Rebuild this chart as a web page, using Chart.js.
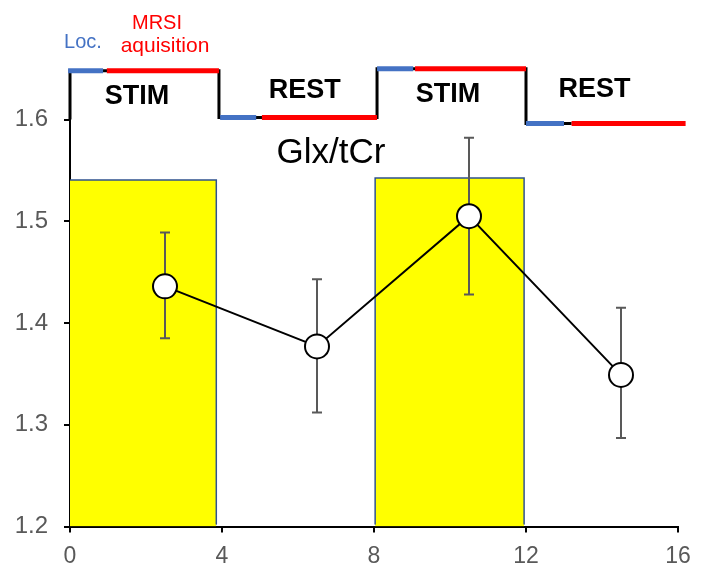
<!DOCTYPE html>
<html>
<head>
<meta charset="utf-8">
<script src="https://cdn.jsdelivr.net/npm/chart.js@4.4.1/dist/chart.umd.min.js"></script>
<style>
  body { margin: 0; background: #fff; }
</style>
</head>
<body>
<canvas id="glxChart" width="714" height="583"></canvas>
<script>
// Glx/tCr over time (minutes), mean with error bars
const timeX = [2.5, 6.5, 10.5, 14.5];
const glx = [1.436, 1.377, 1.505, 1.349];
const errLow = [1.385, 1.312, 1.428, 1.287];
const errHigh = [1.489, 1.443, 1.582, 1.415];

// yellow STIM blocks: [start, end, top]
const stimBlocks = [
  [-0.1, 3.85, 1.5405],
  [8.03, 11.95, 1.5425]
];

// paradigm timeline drawn above the plot (step line + localizer / MRSI parts)
const stepX = [0, 0, 3.92, 3.92, 8.08, 8.08, 12.0, 12.0, 13.2];
const stepY = [1.6, 1.648, 1.648, 1.602, 1.602, 1.650, 1.650, 1.596, 1.596];
const locSegs = [[-0.05, 0.87, 1.648], [3.95, 4.9, 1.602], [8.08, 9.03, 1.650], [12.0, 13.0, 1.596]];
const mrsiSegs = [[0.97, 3.92, 1.648], [5.05, 8.08, 1.602], [9.08, 12.0, 1.650], [13.2, 16.2, 1.596]];

const xTicks = [0, 4, 8, 12, 16];
const yTicks = [1.2, 1.3, 1.4, 1.5, 1.6];

const FONT = "'Liberation Sans', Arial, sans-serif";

const datasets = [];

stimBlocks.forEach(b => {
  datasets.push({
    type: 'line',
    data: [{x: b[0], y: 1.202}, {x: b[0], y: b[2]}, {x: b[1], y: b[2]}, {x: b[1], y: 1.202}],
    borderColor: '#2F528F',
    borderWidth: 1.5,
    backgroundColor: '#FFFF00',
    fill: 'start',
    pointRadius: 0,
    order: 5
  });
  // bottom edge of the block
  datasets.push({
    type: 'line',
    data: [{x: b[0], y: 1.202}, {x: b[1], y: 1.202}],
    borderColor: '#2F528F',
    borderWidth: 1.5,
    pointRadius: 0,
    fill: false,
    order: 5
  });
});

// step line
datasets.push({
  type: 'line',
  data: stepX.map((x, i) => ({x: x, y: stepY[i]})),
  borderColor: '#000',
  borderWidth: 3,
  pointRadius: 0,
  fill: false,
  clip: false,
  order: 4
});

locSegs.forEach(s => {
  datasets.push({
    type: 'line',
    data: [{x: s[0], y: s[2]}, {x: s[1], y: s[2]}],
    borderColor: '#4472C4',
    borderWidth: 5,
    pointRadius: 0,
    fill: false,
    clip: false,
    order: 3
  });
});
mrsiSegs.forEach(s => {
  datasets.push({
    type: 'line',
    data: [{x: s[0], y: s[2]}, {x: s[1], y: s[2]}],
    borderColor: '#FF0000',
    borderWidth: 5,
    pointRadius: 0,
    fill: false,
    clip: false,
    order: 3
  });
});

const mainIndex = datasets.length;
datasets.push({
  type: 'line',
  data: timeX.map((x, i) => ({x: x, y: glx[i]})),
  borderColor: '#000',
  borderWidth: 2,
  pointRadius: 12,
  pointBackgroundColor: '#fff',
  pointBorderColor: '#000',
  pointBorderWidth: 2,
  fill: false,
  clip: false,
  order: 0
});

// labels placed in data coordinates
const textLabels = [
  {text: 'STIM', x: 1.76, y: 1.623, font: 'bold 27px ' + FONT, color: '#000'},
  {text: 'REST', x: 6.18, y: 1.628, font: 'bold 27px ' + FONT, color: '#000'},
  {text: 'STIM', x: 9.95, y: 1.6245, font: 'bold 27px ' + FONT, color: '#000'},
  {text: 'REST', x: 13.8, y: 1.6295, font: 'bold 27px ' + FONT, color: '#000'},
  {text: 'Glx/tCr', x: 6.87, y: 1.5667, font: '35px ' + FONT, color: '#000'},
  {text: 'Loc.', x: 0.34, y: 1.676, font: '20px ' + FONT, color: '#4472C4'},
  {text: 'MRSI', x: 2.29, y: 1.694, font: '20px ' + FONT, color: '#FF0000'},
  {text: 'aquisition', x: 2.5, y: 1.672, font: '21px ' + FONT, color: '#FF0000'}
];

const errorBars = {
  id: 'errorBars',
  beforeDatasetDraw(chart, args) {
    if (args.index !== mainIndex) return;
    const ctx = chart.ctx;
    const xs = chart.scales.x, ys = chart.scales.y;
    ctx.save();
    ctx.strokeStyle = '#595959';
    ctx.lineWidth = 2;
    timeX.forEach((x, i) => {
      const px = xs.getPixelForValue(x);
      const lo = ys.getPixelForValue(errLow[i]);
      const hi = ys.getPixelForValue(errHigh[i]);
      ctx.beginPath();
      ctx.moveTo(px, lo); ctx.lineTo(px, hi);
      ctx.moveTo(px - 5, lo); ctx.lineTo(px + 5, lo);
      ctx.moveTo(px - 5, hi); ctx.lineTo(px + 5, hi);
      ctx.stroke();
    });
    ctx.restore();
  }
};

const labelsPlugin = {
  id: 'labelsPlugin',
  afterDatasetsDraw(chart) {
    const ctx = chart.ctx;
    const xs = chart.scales.x, ys = chart.scales.y;
    ctx.save();
    ctx.textAlign = 'center';
    ctx.textBaseline = 'middle';
    textLabels.forEach(l => {
      ctx.font = l.font;
      ctx.fillStyle = l.color;
      ctx.fillText(l.text, xs.getPixelForValue(l.x), ys.getPixelForValue(l.y));
    });
    ctx.restore();
  }
};

new Chart(document.getElementById('glxChart'), {
  type: 'line',
  data: { datasets: datasets },
  options: {
    responsive: false,
    animation: false,
    layout: { padding: { top: 119.5, right: 36, left: 0, bottom: 0 } },
    plugins: { legend: { display: false }, tooltip: { enabled: false } },
    scales: {
      x: {
        type: 'linear',
        min: 0,
        max: 16,
        afterBuildTicks: axis => { axis.ticks = xTicks.map(v => ({value: v})); },
        afterFit: axis => { axis.height = 56.5; },
        grid: { drawOnChartArea: false, drawTicks: true, tickLength: 6, color: '#000', lineWidth: 2 },
        border: { color: '#000', width: 2 },
        ticks: { color: '#595959', font: { family: FONT, size: 23 }, padding: 10, maxRotation: 0 }
      },
      y: {
        type: 'linear',
        min: 1.2,
        max: 1.6,
        afterBuildTicks: axis => { axis.ticks = yTicks.map(v => ({value: v})); },
        afterFit: axis => { axis.width = 70; },
        grid: { drawOnChartArea: false, drawTicks: true, tickLength: 6, color: '#000', lineWidth: 2 },
        border: { color: '#000', width: 2 },
        ticks: { color: '#595959', font: { family: FONT, size: 24 }, padding: 16, callback: v => v.toFixed(1) }
      }
    }
  },
  plugins: [errorBars, labelsPlugin]
});
</script>
</body>
</html>
